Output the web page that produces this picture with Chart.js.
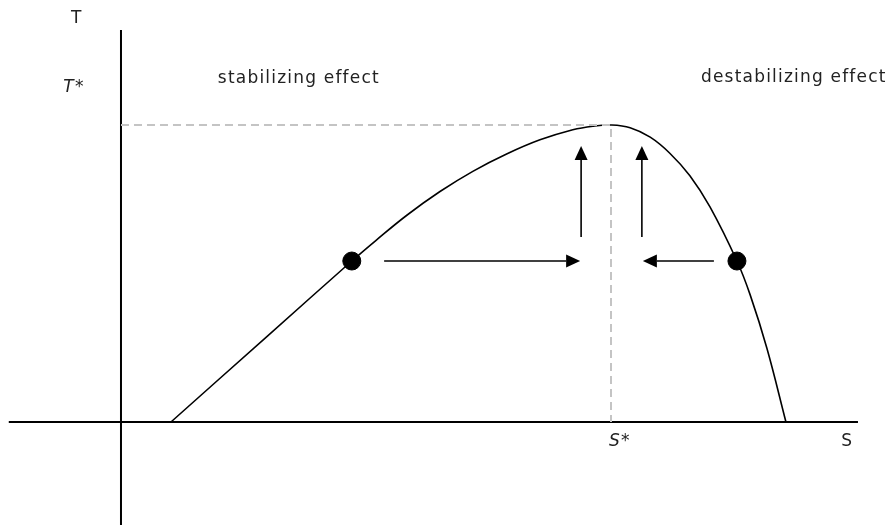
<!DOCTYPE html>
<html>
<head>
<meta charset="utf-8">
<script src="https://cdn.jsdelivr.net/npm/chart.js@4/dist/chart.umd.min.js"></script>
<style>
  html, body { margin: 0; padding: 0; background: #fff; }
</style>
</head>
<body>
<canvas id="chart" width="891" height="526"></canvas>
<script>
// curve T(S) (S* = 100, T* = 100)
var curveS = [10.2, 30, 47.1, 52, 58.4, 65.1, 71.8, 78.8, 85.5, 92.2, 96.3, 100, 103.9, 108.0, 112.0, 116.1, 120.2, 125.7, 128.4, 131.8, 135.7];
var curveT = [0, 29.1, 54.2, 61.1, 69.7, 77.6, 84.4, 90.3, 95.0, 98.4, 99.6, 100, 99.1, 95.9, 90.5, 82.9, 72.4, 54.2, 42.8, 24.9, 0];

// the two equilibrium dots
var dotS = [47.1, 125.7];
var dotT = [54.2, 54.2];

// optimum
var optS = 100;
var optT = 100;

// arrows: start and end
var arrowS1 = [53.7, 121.0, 93.9, 106.3];
var arrowT1 = [54.2, 54.2, 62.3, 62.3];
var arrowS2 = [93.7, 106.5, 93.9, 106.3];
var arrowT2 = [54.2, 54.2, 92.9, 92.9];

// axes extent
var axisS = [-22.9, 150.4];
var axisT = [-34.7, 132];

function pts(xs, ys) {
    return xs.map(function (x, i) { return { x: x, y: ys[i] }; });
}

var arrowPlugin = {
    id: 'arrows',
    afterDatasetsDraw: function (chart) {
        var ctx = chart.ctx;
        var xs = chart.scales.x, ys = chart.scales.y;
        ctx.save();
        ctx.strokeStyle = '#000';
        ctx.fillStyle = '#000';
        ctx.lineWidth = 1.6;
        for (var i = 0; i < arrowS1.length; i++) {
            var x1 = xs.getPixelForValue(arrowS1[i]), y1 = ys.getPixelForValue(arrowT1[i]);
            var x2 = xs.getPixelForValue(arrowS2[i]), y2 = ys.getPixelForValue(arrowT2[i]);
            var a = Math.atan2(y2 - y1, x2 - x1);
            var len = 14, half = 6.5;
            var bx = x2 - len * Math.cos(a), by = y2 - len * Math.sin(a);
            ctx.beginPath();
            ctx.moveTo(x1, y1);
            ctx.lineTo(bx, by);
            ctx.stroke();
            ctx.beginPath();
            ctx.moveTo(x2, y2);
            ctx.lineTo(bx + half * Math.sin(a), by - half * Math.cos(a));
            ctx.lineTo(bx - half * Math.sin(a), by + half * Math.cos(a));
            ctx.closePath();
            ctx.fill();
        }
        ctx.restore();
    }
};

var labelPlugin = {
    id: 'labels',
    afterDraw: function (chart) {
        var ctx = chart.ctx;
        var xs = chart.scales.x, ys = chart.scales.y;
        var labels = [
            { t: 'T', s: -9.0, v: 136.0, it: false },
            { t: 'T*', s: -9.6, v: 112.5, it: true },
            { t: 'S*', s: 101.8, v: -6.7, it: true },
            { t: 'S', s: 148.2, v: -6.7, it: false },
            { t: 'stabilizing effect', s: 36.3, v: 115.8, it: false },
            { t: 'destabilizing effect', s: 137.3, v: 116.1, it: false }
        ];
        ctx.save();
        ctx.fillStyle = '#222';
        ctx.textAlign = 'center';
        ctx.textBaseline = 'middle';
        ctx.letterSpacing = '1.2px';
        labels.forEach(function (l) {
            ctx.font = (l.it ? 'italic ' : '') + '17px "DejaVu Sans"';
            ctx.fillText(l.t, xs.getPixelForValue(l.s), ys.getPixelForValue(l.v));
        });
        ctx.restore();
    }
};

new Chart(document.getElementById('chart').getContext('2d'), {
    type: 'line',
    data: {
        datasets: [
            {
                // guide lines to the optimum
                data: [{ x: 0, y: optT }, { x: optS, y: optT }, { x: optS, y: 0 }],
                borderColor: '#c4c4c4',
                borderWidth: 2,
                borderDash: [8, 5],
                pointRadius: 0,
                tension: 0
            },
            {
                data: pts(axisS, [0, 0]),
                borderColor: '#000',
                borderWidth: 2,
                pointRadius: 0
            },
            {
                data: pts([0, 0], axisT),
                borderColor: '#000',
                borderWidth: 2,
                pointRadius: 0
            },
            {
                data: pts(curveS, curveT),
                borderColor: '#000',
                borderWidth: 1.6,
                pointRadius: 0,
                tension: 0.4
            },
            {
                data: pts(dotS, dotT),
                showLine: false,
                pointRadius: 9,
                pointBackgroundColor: '#000',
                pointBorderColor: '#000'
            }
        ]
    },
    options: {
        responsive: false,
        devicePixelRatio: 1,
        animation: false,
        layout: { padding: 0, autoPadding: false },
        scales: {
            x: { type: 'linear', min: -24.69, max: 157.14, display: false },
            y: { type: 'linear', min: -35.02, max: 142.09, display: false }
        },
        plugins: {
            legend: { display: false },
            tooltip: { enabled: false }
        }
    },
    plugins: [arrowPlugin, labelPlugin]
});
</script>
</body>
</html>
